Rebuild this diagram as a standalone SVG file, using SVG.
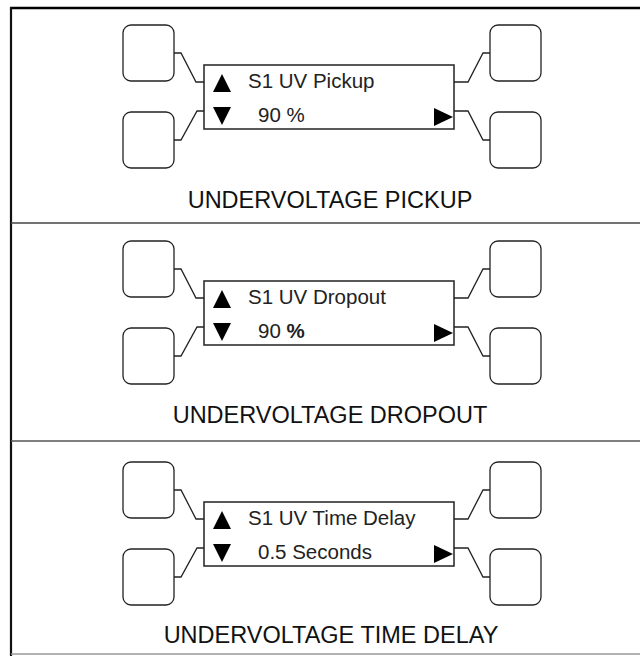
<svg xmlns="http://www.w3.org/2000/svg" width="640" height="656" viewBox="0 0 640 656">
<defs>
<style>
.btn{fill:#fff;stroke:#222;stroke-width:1.3}
.disp{fill:#fff;stroke:#222;stroke-width:1.5}
.con{fill:none;stroke:#222;stroke-width:1.3}
.tri{fill:#000}
.t{font-family:"Liberation Sans",Arial,sans-serif;font-size:20.5px;fill:#222}
.title{font-family:"Liberation Sans",Arial,sans-serif;font-size:23.5px;fill:#111;text-anchor:middle}
</style>
<g id="panel">
<rect class="btn" x="123" y="25" width="51" height="56" rx="8"/>
</g>
</defs>
<rect x="0" y="0" width="640" height="656" fill="#fff"/>
<g id="frame">
<line x1="10" y1="8" x2="640" y2="8" stroke="#000" stroke-width="2.5"/>
<line x1="11" y1="7" x2="11" y2="656" stroke="#111" stroke-width="2.2"/>
<line x1="11" y1="223" x2="640" y2="223" stroke="#444" stroke-width="1.5"/>
<line x1="11" y1="441" x2="640" y2="441" stroke="#555" stroke-width="1.5"/>
<line x1="11" y1="654" x2="640" y2="654" stroke="#999" stroke-width="1.5"/>
</g>

<g id="connectors">
<g transform="translate(0,0)">
<polyline class="con" points="174,53 181,53 196,82 204,82"/>
<polyline class="con" points="174,140 181,140 197,111 204,111"/>
<polyline class="con" points="454,82 468,82 483,53 490,53"/>
<polyline class="con" points="454,111 468,111 483,140 490,140"/>
</g>
<g transform="translate(0,216)">
<polyline class="con" points="174,53 181,53 196,82 204,82"/>
<polyline class="con" points="174,140 181,140 197,111 204,111"/>
<polyline class="con" points="454,82 468,82 483,53 490,53"/>
<polyline class="con" points="454,111 468,111 483,140 490,140"/>
</g>
<g transform="translate(0,437)">
<polyline class="con" points="174,53 181,53 196,82 204,82"/>
<polyline class="con" points="174,140 181,140 197,111 204,111"/>
<polyline class="con" points="454,82 468,82 483,53 490,53"/>
<polyline class="con" points="454,111 468,111 483,140 490,140"/>
</g>
</g>

<g id="section1" transform="translate(0,0)">
<g id="s1-btn-ul"><rect class="btn" x="123" y="25" width="51" height="56" rx="8"/></g>
<g id="s1-btn-ll"><rect class="btn" x="123" y="112" width="51" height="56" rx="8"/></g>
<g id="s1-btn-ur"><rect class="btn" x="490" y="25" width="51" height="56" rx="8"/></g>
<g id="s1-btn-lr"><rect class="btn" x="490" y="112" width="51" height="56" rx="8"/></g>
<g id="s1-display">
<rect class="disp" x="204" y="65" width="250" height="64"/>
<polygon class="tri" points="213,92 222,74 231,92"/>
<polygon class="tri" points="213,107 231,107 222,125"/>
<polygon class="tri" points="434,108 453,117 434,126"/>
<text class="t" x="248" y="88">S1 UV Pickup</text>
<text class="t" x="258" y="122">90 %</text>
</g>
<text class="title" x="330" y="208">UNDERVOLTAGE PICKUP</text>
</g>

<g id="section2" transform="translate(0,216)">
<g id="s2-btn-ul"><rect class="btn" x="123" y="25" width="51" height="56" rx="8"/></g>
<g id="s2-btn-ll"><rect class="btn" x="123" y="112" width="51" height="56" rx="8"/></g>
<g id="s2-btn-ur"><rect class="btn" x="490" y="25" width="51" height="56" rx="8"/></g>
<g id="s2-btn-lr"><rect class="btn" x="490" y="112" width="51" height="56" rx="8"/></g>
<g id="s2-display">
<rect class="disp" x="204" y="65" width="250" height="64"/>
<polygon class="tri" points="213,92 222,74 231,92"/>
<polygon class="tri" points="213,107 231,107 222,125"/>
<polygon class="tri" points="434,108 453,117 434,126"/>
<text class="t" x="248" y="88">S1 UV Dropout</text>
<text class="t" x="258" y="122">90 <tspan font-weight="bold">%</tspan></text>
</g>
<text class="title" x="330" y="207">UNDERVOLTAGE DROPOUT</text>
</g>

<g id="section3" transform="translate(0,437)">
<g id="s3-btn-ul"><rect class="btn" x="123" y="25" width="51" height="56" rx="8"/></g>
<g id="s3-btn-ll"><rect class="btn" x="123" y="112" width="51" height="56" rx="8"/></g>
<g id="s3-btn-ur"><rect class="btn" x="490" y="25" width="51" height="56" rx="8"/></g>
<g id="s3-btn-lr"><rect class="btn" x="490" y="112" width="51" height="56" rx="8"/></g>
<g id="s3-display">
<rect class="disp" x="204" y="65" width="250" height="64"/>
<polygon class="tri" points="213,92 222,74 231,92"/>
<polygon class="tri" points="213,107 231,107 222,125"/>
<polygon class="tri" points="434,108 453,117 434,126"/>
<text class="t" x="248" y="88">S1 UV Time Delay</text>
<text class="t" x="258" y="122">0.5 Seconds</text>
</g>
<text class="title" x="331" y="206">UNDERVOLTAGE TIME DELAY</text>
</g>
</svg>
